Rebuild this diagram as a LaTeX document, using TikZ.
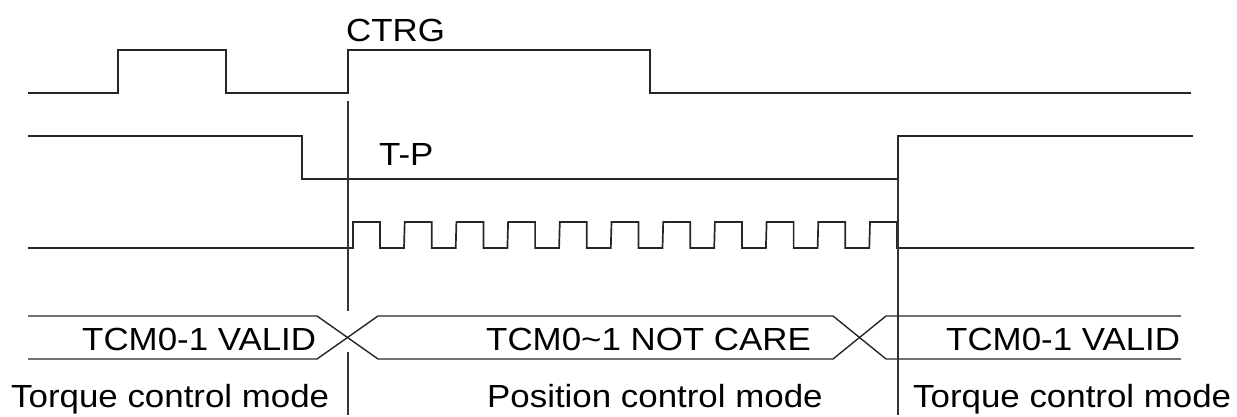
\documentclass[tikz,border=0pt]{standalone}
\usepackage{fontspec}
\setmainfont{Liberation Sans}[FakeStretch=1.09]
\begin{document}
\begin{tikzpicture}[x=1pt,y=-1pt,
  sig/.style={line width=1.7pt,draw=black!85,line join=miter},
  bus/.style={line width=1.4pt,draw=black!85},
  vmark/.style={line width=1.1pt,draw=black!80},
  lbl/.style={anchor=base west,inner sep=0pt,font=\fontsize{32}{32}\selectfont}]
\useasboundingbox (0,0) rectangle (1237,417);
% CTRG
\draw[sig] (28,93) -- (118,93) -- (118,50) -- (226,50) -- (226,93) -- (348,93) -- (348,50) -- (650,50) -- (650,93) -- (1191,93);
% T-P
\draw[sig] (28,136) -- (302,136) -- (302,179) -- (898,179) -- (898,136) -- (1193,136);
% pulses
\draw[sig] (28,248) -- (353,248)
  \foreach \i in {0,...,10} { -- ({353+51.7*\i},222) -- ({380+51.7*\i},222) -- ({380+51.7*\i},248) -- ({404+51.7*\i},248) }
  -- (1194,248);
% bus
\draw[bus] (28,316) -- (317,316) -- (378,359) -- (833,359) -- (886,316) -- (1181,316);
\draw[bus] (28,359) -- (317,359) -- (378,316) -- (833,316) -- (886,359) -- (1181,359);
% vertical markers
\coordinate (v1a) at (348,101);
\coordinate (v1b) at (348,311);
\coordinate (v1c) at (348,352);
\coordinate (v1d) at (348,415);
\coordinate (v2a) at (898,179);
\coordinate (v2b) at (898,415);
\draw[vmark] (v1a) -- (v1b);
\draw[vmark] (v1c) -- (v1d);
\draw[vmark] (v2a) -- (v2b);
% labels
\node[lbl] (ctrg) at (346,42) {CTRG};
\node[lbl] (tp) at (379,165) {T-P};
\node[lbl] (v1) at (82,350) {TCM0-1 VALID};
\node[lbl] (nc) at (486,350) {TCM0\char`~1 NOT CARE};
\node[lbl] (v2) at (946,350) {TCM0-1 VALID};
\node[lbl] (m1) at (11,407) {Torque control mode};
\node[lbl] (m2) at (487,407) {Position control mode};
\node[lbl] (m3) at (913,407) {Torque control mode};
\end{tikzpicture}
\end{document}
